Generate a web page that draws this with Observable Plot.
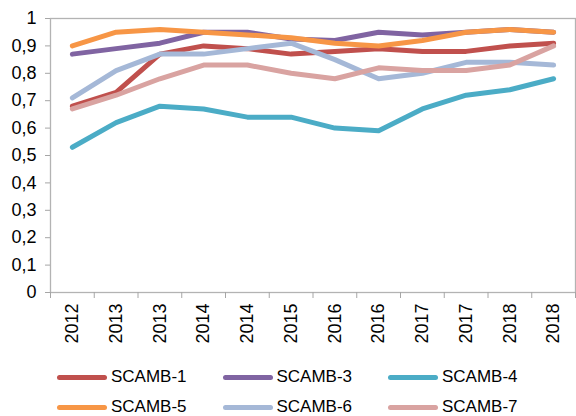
<!DOCTYPE html>
<html>
<head>
<meta charset="utf-8">
<script src="https://cdn.jsdelivr.net/npm/d3@7"></script>
<script src="https://cdn.jsdelivr.net/npm/@observablehq/plot@0.6"></script>
<style>
  html, body { margin: 0; padding: 0; background: #fff; }
  body { width: 576px; height: 416px; overflow: hidden; font-family: "Liberation Sans", Arial, sans-serif; }
  #legend { position: relative; height: 61px; }
  .item { position: absolute; display: flex; align-items: center; font-size: 17px; color: #000; }
  .sw { width: 50px; height: 5px; border-radius: 3px; margin-right: 4px; }
</style>
</head>
<body>
<div id="chart"></div>
<div id="legend"></div>
<script>
const xLabels = ["2012","2013","2013","2014","2014","2015","2016","2016","2017","2017","2018","2018"];
const seriesNames = ["SCAMB-1","SCAMB-3","SCAMB-4","SCAMB-5","SCAMB-6","SCAMB-7"];
const seriesColors = ["#C0504D","#8064A2","#4BACC6","#F79646","#A5B8D7","#D9A3A1"];
const scamb1 = [0.68,0.73,0.87,0.90,0.89,0.87,0.88,0.89,0.88,0.88,0.90,0.91];
const scamb3 = [0.87,0.89,0.91,0.95,0.95,0.925,0.92,0.95,0.94,0.95,0.96,0.95];
const scamb4 = [0.53,0.62,0.68,0.67,0.64,0.64,0.60,0.59,0.67,0.72,0.74,0.78];
const scamb5 = [0.90,0.95,0.96,0.95,0.94,0.93,0.91,0.90,0.92,0.95,0.96,0.95];
const scamb6 = [0.71,0.81,0.87,0.87,0.89,0.91,0.85,0.78,0.80,0.84,0.84,0.83];
const scamb7 = [0.67,0.72,0.78,0.83,0.83,0.80,0.78,0.82,0.81,0.81,0.83,0.90];
const yTicks = [0,0.1,0.2,0.3,0.4,0.5,0.6,0.7,0.8,0.9,1];

const allSeries = [scamb1, scamb3, scamb4, scamb5, scamb6, scamb7];
const rows = [];
allSeries.forEach((vals, s) => vals.forEach((v, i) => rows.push({series: seriesNames[s], i, v})));

const fmt = d => String(+d.toFixed(1)).replace(".", ",");
const font = '"Liberation Sans", Arial, sans-serif';

const chart = Plot.plot({
  width: 576,
  height: 355,
  marginLeft: 50,
  marginRight: 1,
  marginTop: 18,
  marginBottom: 63,
  style: {fontFamily: font, fontSize: "18px", color: "#000", background: "#fff"},
  x: {type: "linear", domain: [0, 12]},
  y: {domain: [0, 1]},
  color: {domain: seriesNames, range: seriesColors},
  marks: [
    Plot.frame({stroke: "#b3b3b3", strokeWidth: 1.3}),
    Plot.axisY({ticks: yTicks, tickSize: 5, tickFormat: () => "", stroke: "#a6a6a6", label: null}),
    Plot.axisY({ticks: yTicks, tickSize: 0, tickPadding: 14, tickFormat: fmt, label: null, fontSize: 18}),
    Plot.axisX({ticks: d3.range(0, 13), tickSize: 6, tickFormat: () => "", stroke: "#a6a6a6", label: null}),
    Plot.axisX({ticks: d3.range(12).map(i => i + 0.5), tickSize: 0, tickPadding: 11, tickRotate: -90,
      tickFormat: d => xLabels[Math.floor(d)], label: null, fontSize: 18}),
    Plot.line(rows, {x: d => d.i + 0.5, y: "v", z: "series", stroke: "series",
      strokeWidth: 5, strokeLinejoin: "round", strokeLinecap: "round"})
  ]
});
document.getElementById("chart").appendChild(chart);

const legend = document.getElementById("legend");
seriesNames.forEach((name, k) => {
  const col = k % 3, row = Math.floor(k / 3);
  const it = document.createElement("div");
  it.className = "item";
  it.style.left = (57 + col * 165.5) + "px";
  it.style.top = (12 + row * 30) + "px";
  it.innerHTML = `<span class="sw" style="background:${seriesColors[k]}"></span><span>${name}</span>`;
  legend.appendChild(it);
});
</script>
</body>
</html>
